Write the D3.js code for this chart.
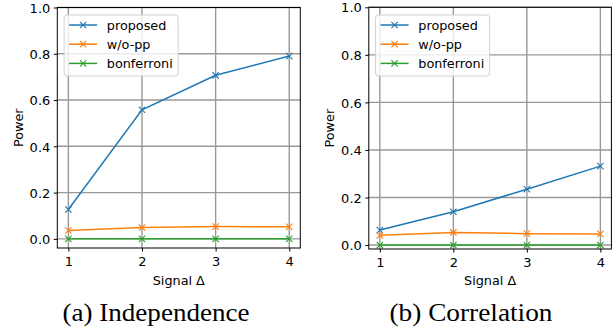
<!DOCTYPE html>
<html>
<head>
<meta charset="utf-8">
<script src="https://cdn.jsdelivr.net/npm/d3@7"></script>
<style>
  body { margin: 0; background: #fff; }
  svg { display: block; }
  .tick text { font-family: "DejaVu Sans", sans-serif; font-size: 13px; fill: #000; }
  .tick line { stroke: #000; stroke-width: 1; }
  .lbl { font-family: "DejaVu Sans", sans-serif; font-size: 12.8px; fill: #000; }
  .cap { font-family: "Liberation Serif", serif; font-size: 25px; fill: #000; }
</style>
</head>
<body>
<div id="chart"></div>
<script>
// data
var signal = [1, 2, 3, 4];
var seriesNames = ["proposed", "w/o-pp", "bonferroni"];
var colors = ["#1f77b4", "#ff7f0e", "#2ca02c"];

var indepProposed = [0.127, 0.558, 0.707, 0.790];
var indepWoPP = [0.036, 0.049, 0.053, 0.052];
var indepBonf = [0, 0, 0, 0];

var corrProposed = [0.063, 0.140, 0.235, 0.332];
var corrWoPP = [0.041, 0.053, 0.048, 0.047];
var corrBonf = [0, 0, 0, 0];

var yTicks = [0, 0.2, 0.4, 0.6, 0.8, 1.0];
var captions = ["(a) Independence", "(b) Correlation"];

var W = 612, H = 335;
var svg = d3.select("#chart").append("svg")
    .attr("width", W)
    .attr("height", H);

var panels = [
  {x0: 57.3, x1: 300.3, y0: 7.5, y1: 248, ylab: 18.3, capX: 156, capW: 187,
   series: [indepProposed, indepWoPP, indepBonf], caption: captions[0]},
  {x0: 368.8, x1: 611.4, y0: 7.3, y1: 249, ylab: 329.5, capX: 471, capW: 163,
   series: [corrProposed, corrWoPP, corrBonf], caption: captions[1]}
];

panels.forEach(function(p) {
  var all = [].concat.apply([], p.series);
  var lo = d3.min(all), hi = d3.max(all);
  var xMargin = 0.05 * (d3.max(signal) - d3.min(signal));

  var xScale = d3.scaleLinear()
      .domain([d3.min(signal) - xMargin, d3.max(signal) + xMargin])
      .range([p.x0, p.x1]);
  var yScale = d3.scaleLinear()
      .domain([lo - 0.05 * (hi - lo), 1.0])
      .range([p.y1, p.y0]);

  var g = svg.append("g");

  // grid
  g.selectAll(".gx").data(signal).enter().append("line")
      .attr("x1", function(d) { return xScale(d); })
      .attr("x2", function(d) { return xScale(d); })
      .attr("y1", p.y0).attr("y2", p.y1)
      .attr("stroke", "#999").attr("stroke-width", 1.4);
  g.selectAll(".gy").data(yTicks).enter().append("line")
      .attr("y1", function(d) { return yScale(d); })
      .attr("y2", function(d) { return yScale(d); })
      .attr("x1", p.x0).attr("x2", p.x1)
      .attr("stroke", "#999").attr("stroke-width", 1.4);

  // lines + x markers
  var line = d3.line()
      .x(function(d, i) { return xScale(signal[i]); })
      .y(function(d) { return yScale(d); });

  p.series.forEach(function(vals, k) {
    g.append("path")
        .datum(vals)
        .attr("d", line)
        .attr("fill", "none")
        .attr("stroke", colors[k])
        .attr("stroke-width", 1.5);
    g.selectAll(".m" + k).data(vals).enter().append("path")
        .attr("transform", function(d, i) {
          return "translate(" + xScale(signal[i]) + "," + yScale(d) + ")";
        })
        .attr("d", "M-3.2,-3.2L3.2,3.2M-3.2,3.2L3.2,-3.2")
        .attr("stroke", colors[k])
        .attr("stroke-width", 1.1);
  });

  // axes
  var xAxis = g.append("g")
      .attr("transform", "translate(0," + p.y1 + ")")
      .call(d3.axisBottom(xScale).tickValues(signal).tickSize(3.5).tickPadding(5).tickFormat(d3.format("d")));
  var yAxis = g.append("g")
      .attr("transform", "translate(" + p.x0 + ",0)")
      .call(d3.axisLeft(yScale).tickValues(yTicks).tickSize(3.5).tickPadding(3.5).tickFormat(d3.format(".1f")));
  xAxis.select(".domain").remove();
  yAxis.select(".domain").remove();
  yAxis.selectAll(".tick text").attr("dy", "0.36em");

  // spines
  g.append("rect")
      .attr("x", p.x0).attr("y", p.y0)
      .attr("width", p.x1 - p.x0).attr("height", p.y1 - p.y0)
      .attr("fill", "none").attr("stroke", "#000").attr("stroke-width", 1);

  // labels
  g.append("text").attr("class", "lbl")
      .attr("x", (p.x0 + p.x1) / 2).attr("y", 285)
      .attr("text-anchor", "middle")
      .text("Signal Δ");
  g.append("text").attr("class", "lbl")
      .attr("transform", "translate(" + (p.ylab + 4.5) + "," + ((p.y0 + p.y1) / 2) + ") rotate(-90)")
      .attr("text-anchor", "middle")
      .text("Power");

  // legend
  var lx = p.x0 + 6.8, ly = 15;
  var leg = g.append("g").attr("transform", "translate(" + lx + "," + ly + ")");
  leg.append("rect")
      .attr("width", 114).attr("height", 61).attr("rx", 3)
      .attr("fill", "#fff").attr("fill-opacity", 0.8)
      .attr("stroke", "#d0d0d0").attr("stroke-width", 1);
  seriesNames.forEach(function(name, k) {
    var yy = 10 + k * 19.2;
    leg.append("line")
        .attr("x1", 5).attr("x2", 33).attr("y1", yy).attr("y2", yy)
        .attr("stroke", colors[k]).attr("stroke-width", 1.5);
    leg.append("path")
        .attr("transform", "translate(19," + yy + ")")
        .attr("d", "M-3.2,-3.2L3.2,3.2M-3.2,3.2L3.2,-3.2")
        .attr("stroke", colors[k]).attr("stroke-width", 1.1);
    leg.append("text").attr("class", "lbl")
        .attr("x", 42.7).attr("y", yy + 4.6)
        .text(name);
  });

  // caption
  svg.append("text").attr("class", "cap")
      .attr("x", p.capX).attr("y", 321)
      .attr("text-anchor", "middle")
      .attr("textLength", p.capW)
      .attr("lengthAdjust", "spacingAndGlyphs")
      .text(p.caption);
});
</script>
</body>
</html>
